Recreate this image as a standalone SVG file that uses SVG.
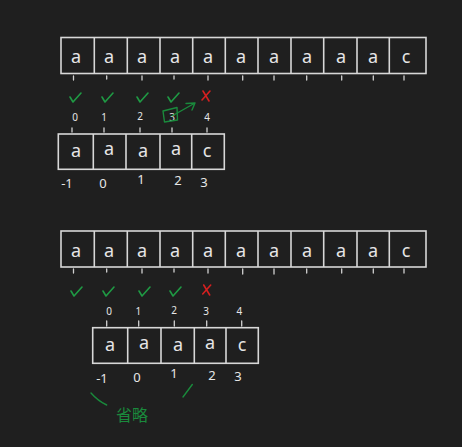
<svg xmlns="http://www.w3.org/2000/svg" width="462" height="447" viewBox="0 0 462 447">
<style>
.bg{fill:#1f1f1f}
.cell{fill:none;stroke:#d8d8d8;stroke-width:1.6}
.tick{stroke:#d0d0d0;stroke-width:1.3;stroke-linecap:round}
.ch{font-family:"Noto Sans","DejaVu Sans",sans-serif;font-size:18px;fill:#e6e6e6;text-anchor:middle}
.ix{font-family:"Noto Sans","DejaVu Sans",sans-serif;font-size:10px;fill:#e6e6e6;text-anchor:middle}
.iy{font-family:"Noto Sans","DejaVu Sans",sans-serif;font-size:13px;fill:#e6e6e6;text-anchor:middle}
.ok{fill:none;stroke:#1f9a44;stroke-width:1.6;stroke-linecap:round;stroke-linejoin:round}
.no{fill:none;stroke:#d42020;stroke-width:1.6;stroke-linecap:round}
.gr{fill:none;stroke:#1a8a3c;stroke-width:1.4;stroke-linecap:round;stroke-linejoin:round}
.zh{font-family:"Noto Sans CJK SC",sans-serif;font-size:16px;fill:#1a8a3c}
</style>
<defs>
<path id="chk" class="ok" d="M-5,-1 L-2,4 L6,-5"/>
<path id="crs" class="no" d="M-3,-5 L3,5 M4,-5 L-4,4"/>
</defs>
<rect class="bg" width="462" height="447"/>

<g id="main-array-1">
<rect class="cell" x="61" y="37.5" width="365" height="36"/>
<path class="cell" d="M94.3,37.5V73.5M127.3,37.5V73.5M160,37.5V73.5M192.7,37.5V73.5M225.3,37.5V73.5M258,37.5V73.5M291,37.5V73.5M323.7,37.5V73.5M357,37.5V73.5M389.3,37.5V73.5"/>
<g class="ch">
<text x="76" y="63">a</text><text x="109" y="63">a</text><text x="142" y="63">a</text><text x="175" y="63">a</text><text x="208" y="63">a</text><text x="241" y="63">a</text><text x="274" y="63">a</text><text x="307" y="63">a</text><text x="341" y="63">a</text><text x="373" y="63">a</text><text x="406" y="63">c</text>
</g>
<path class="tick" d="M73.5,76V80M106.7,76V79M142,76V80M174,76V79M208,76V80M242.7,76V80M274,76V80M306.7,76V80M341.7,76V80M373.3,76V80M404,76V80"/>
</g>

<g id="marks-1">
<use href="#chk" x="75" y="98"/>
<use href="#chk" x="107" y="98"/>
<use href="#chk" x="142" y="98"/>
<use href="#chk" x="173" y="98"/>
<use href="#crs" x="206" y="96"/>
</g>

<g id="pattern-index-1" class="ix">
<text x="75" y="121">0</text><text x="104" y="121">1</text><text x="140" y="120">2</text><text x="172" y="121">3</text><text x="207" y="121">4</text>
</g>

<g id="arrow-note">
<path class="gr" d="M163,111 L177,107.5 L177.5,120 L164.5,122 Z"/>
<path class="gr" d="M172,116 L195,103 M186,103.5 L195,103 L192,110"/>
</g>

<g id="pattern-array-1">
<path class="tick" d="M72,128V132M104,128V132M140,128V132M172,128V132M207,128V132"/>
<rect class="cell" x="58.3" y="134" width="166" height="35.3"/>
<path class="cell" d="M93.3,134V169.3M126,134V169.3M160,134V169.3M191.7,134V169.3"/>
<g class="ch">
<text x="76" y="157">a</text><text x="109" y="155">a</text><text x="143" y="157">a</text><text x="176" y="155">a</text><text x="207" y="157">c</text>
</g>
<g class="iy">
<text x="67" y="188">-1</text><text x="103" y="188">0</text><text x="141" y="184">1</text><text x="178" y="185">2</text><text x="204" y="187">3</text>
</g>
</g>

<g id="main-array-2">
<rect class="cell" x="61" y="231" width="365" height="36"/>
<path class="cell" d="M94.3,231V267M127.3,231V267M160,231V267M192.7,231V267M225.3,231V267M258,231V267M291,231V267M323.7,231V267M357,231V267M389.3,231V267"/>
<g class="ch">
<text x="76" y="257">a</text><text x="109" y="257">a</text><text x="142" y="257">a</text><text x="175" y="257">a</text><text x="208" y="257">a</text><text x="241" y="257">a</text><text x="274" y="257">a</text><text x="307" y="257">a</text><text x="341" y="257">a</text><text x="373" y="257">a</text><text x="406" y="257">c</text>
</g>
<path class="tick" d="M73.5,269V273M106.7,269V272M142,269V273M174,269V272M208,269V273M242.7,269V274M274,269V274M306.7,269V273M341.7,269V273M373.3,269V273M404,269V273"/>
</g>

<g id="marks-2">
<use href="#chk" x="76" y="292"/>
<use href="#chk" x="108" y="292"/>
<use href="#chk" x="144" y="292"/>
<use href="#chk" x="175" y="292"/>
<use href="#crs" x="206.7" y="290"/>
</g>

<g id="pattern-index-2" class="ix">
<text x="109" y="315">0</text><text x="138.3" y="315">1</text><text x="174" y="314">2</text><text x="206" y="315">3</text><text x="239.3" y="315">4</text>
</g>

<g id="pattern-array-2">
<path class="tick" d="M106.7,321V326M138.7,321V326M174.3,321V326M206.7,321V326M241.7,321V326"/>
<rect class="cell" x="92.7" y="327.7" width="165.6" height="35.6"/>
<path class="cell" d="M127.7,327.7V363.3M161,327.7V363.3M194.3,327.7V363.3M226,327.7V363.3"/>
<g class="ch">
<text x="110" y="351">a</text><text x="144" y="349">a</text><text x="178" y="351">a</text><text x="210" y="349">a</text><text x="242" y="351">c</text>
</g>
<g class="iy">
<text x="102" y="383">-1</text><text x="137" y="382">0</text><text x="174" y="378">1</text><text x="212" y="380">2</text><text x="238" y="381">3</text>
</g>
</g>

<g id="omit-note">
<path class="gr" d="M91,393 Q98,401 106.7,405"/>
<path class="gr" d="M183,397 L192.3,384.5"/>
<text class="zh" x="116" y="421">省略</text>
</g>
</svg>
